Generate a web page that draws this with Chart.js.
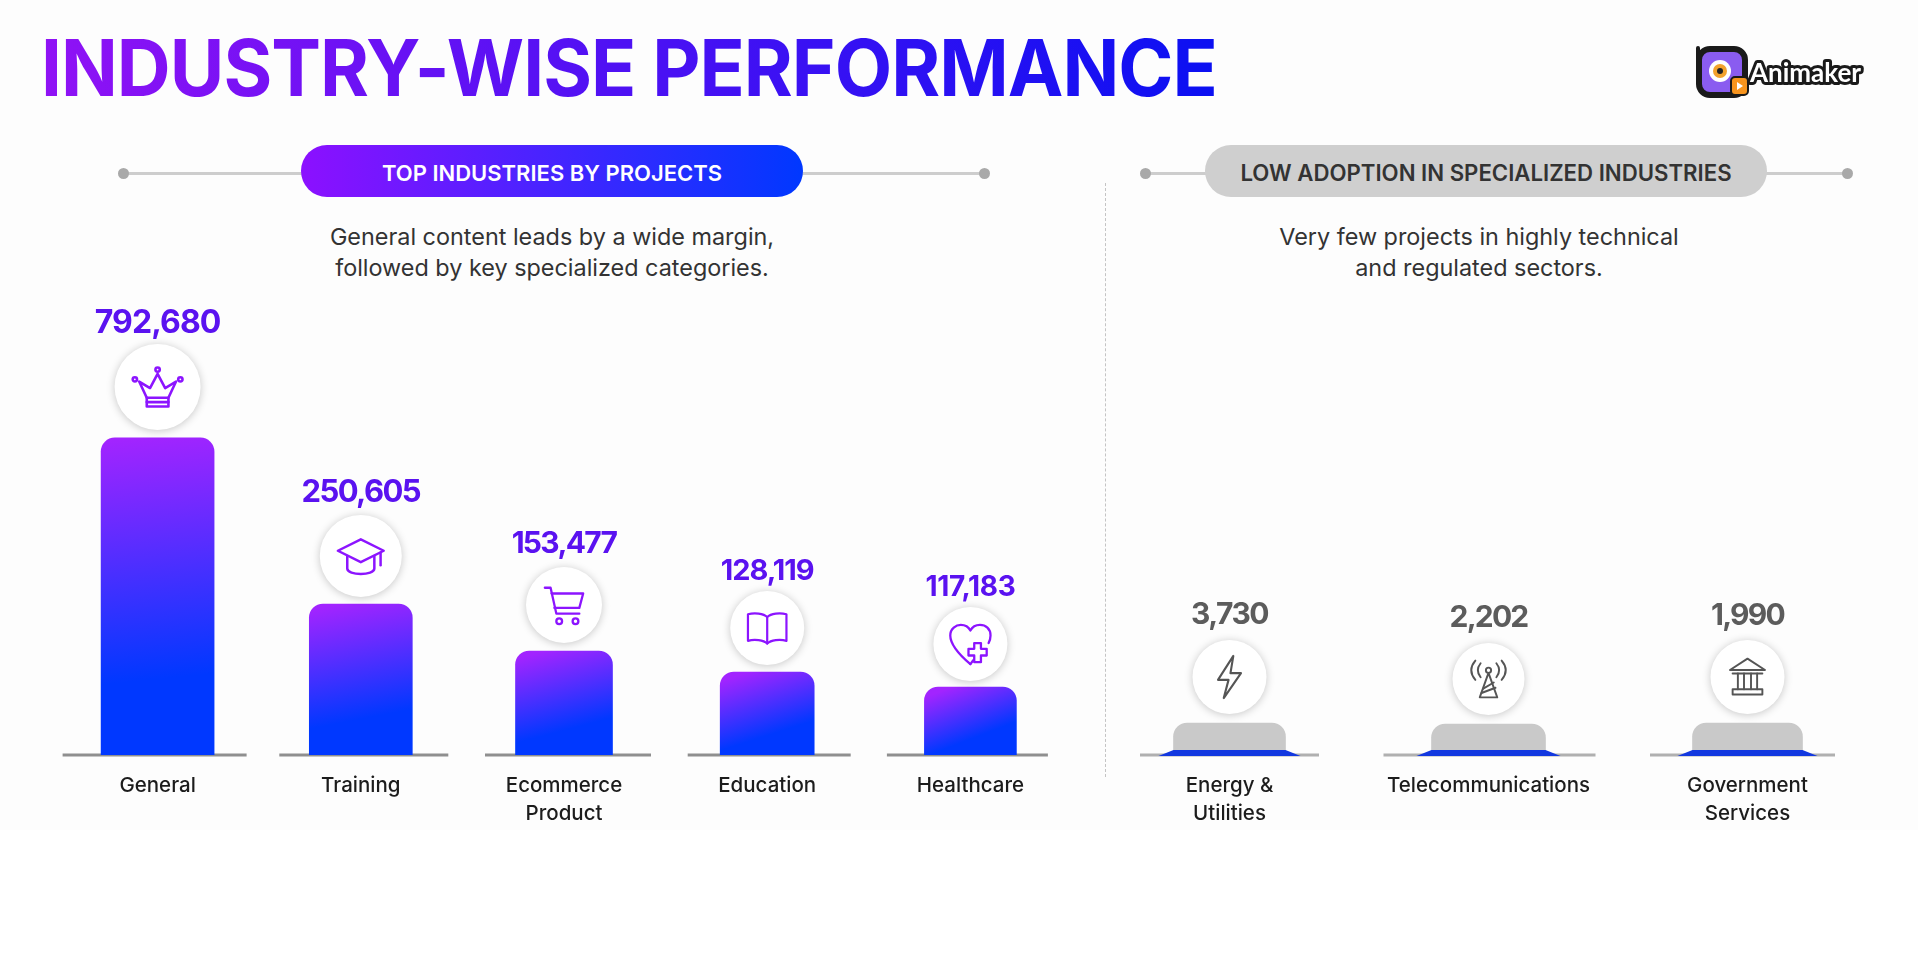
<!DOCTYPE html>
<html>
<head>
<meta charset="utf-8">
<title>Industry-wise performance</title>
<script src="https://cdn.jsdelivr.net/npm/chart.js@4/dist/chart.umd.min.js"></script>
<style>
    html, body { margin: 0; padding: 0; background: #fff; overflow: hidden; }
    #page { position: relative; width: 1918px; height: 960px; font-family: Inter, sans-serif; }
    #sheet { position: absolute; left: 0; top: 0; width: 1918px; height: 830px; background: #fdfdfd; }
    #title {
        position: absolute; left: 41px; top: 21px; white-space: nowrap;
        font-size: 78px; font-weight: 700; line-height: 94px; letter-spacing: -1px;
        transform: scaleX(0.956); transform-origin: left center;
        background: linear-gradient(90deg, #9012f5, #0b10f2);
        -webkit-background-clip: text; background-clip: text; color: transparent;
    }
    .rule { position: absolute; top: 172px; height: 3px; background: #cdcdcd; }
    .dot { position: absolute; top: 168px; width: 11px; height: 11px; border-radius: 50%; background: #a9a9a9; }
    .pill {
        position: absolute; top: 145px; height: 52px; border-radius: 26px; line-height: 56px;
        text-align: center; font-size: 22px; font-weight: 600;
    }
    #pillTop { left: 301px; width: 502px; color: #fff; background: linear-gradient(90deg, #8c10ff, #0038ff); }
    #pillLow { left: 1205px; width: 562px; color: #333; background: #cfcfcf; font-size: 22.2px; }
    .note {
        position: absolute; top: 221px; text-align: center; font-size: 23.4px; line-height: 31px;
        color: #333; white-space: nowrap;
    }
    #divider { position: absolute; left: 1105px; top: 183px; height: 594px; border-left: 1.5px dashed #c4c4c4; }
    canvas { position: absolute; top: 0; }
    #logo { position: absolute; left: 1690px; top: 40px; }
</style>
</head>
<body>
<div id="page">
    <div id="sheet"></div>
    <div id="title">INDUSTRY-WISE PERFORMANCE</div>

    <div class="rule" style="left:123px;width:180px"></div>
    <div class="rule" style="left:800px;width:185px"></div>
    <div class="dot" style="left:118px"></div>
    <div class="dot" style="left:979px"></div>
    <div class="pill" id="pillTop">TOP INDUSTRIES BY PROJECTS</div>
    <div class="note" style="left:252px;width:600px">General content leads by a wide margin,<br>followed by key specialized categories.</div>

    <div class="rule" style="left:1145px;width:62px"></div>
    <div class="rule" style="left:1765px;width:82px"></div>
    <div class="dot" style="left:1140px"></div>
    <div class="dot" style="left:1842px"></div>
    <div class="pill" id="pillLow">LOW ADOPTION IN SPECIALIZED INDUSTRIES</div>
    <div class="note" style="left:1179px;width:600px">Very few projects in highly technical<br>and regulated sectors.</div>

    <div id="divider"></div>

    <canvas id="topChart" width="1100" height="960" style="left:0"></canvas>
    <canvas id="lowChart" width="818" height="960" style="left:1100px"></canvas>

    <svg id="logo" width="180" height="62" viewBox="0 0 180 62">
        <path d="M8 8 V30" stroke="#1a1a1a" stroke-width="4" stroke-linecap="round"/>
        <rect x="9" y="9" width="46" height="46" rx="11" fill="#8a5cf0" stroke="#1a1a1a" stroke-width="6"/>
        <circle cx="30" cy="31" r="11" fill="#fff"/>
        <circle cx="30" cy="31" r="7" fill="#f2a22c"/>
        <circle cx="30" cy="31" r="3" fill="#222"/>
        <rect x="41" y="37" width="17" height="18" rx="4" fill="#f7941d" stroke="#1a1a1a" stroke-width="2"/>
        <path d="M47 42 L53 46 L47 50 Z" fill="#fff"/>
        <text x="60" y="42" font-family="Lato, sans-serif" font-size="26" font-weight="700" fill="#fff"
              stroke="#1a1a1a" stroke-width="6" paint-order="stroke" stroke-linejoin="round">Animaker</text>
    </svg>
</div>

<script>
// ---- data ----
const topCategories = ['General', 'Training', ['Ecommerce', 'Product'], 'Education', 'Healthcare'];
const topValues = [792680, 250605, 153477, 128119, 117183];
// the picture does not draw its bars to scale, these are the drawn bar
// levels, in units where the General bar sits at its printed value
const topLevels = [792680, 377600, 260000, 207500, 170000];

const lowCategories = [['Energy &', 'Utilities'], 'Telecommunications', ['Government', 'Services']];
const lowValues = [3730, 2202, 1990];
const lowLevels = [80000, 77500, 80000];
const lowBlueLevels = [12500, 12500, 12500];

const topIcons = ['crown', 'cap', 'cart', 'book', 'heart'];
const lowIcons = ['bolt', 'tower', 'bank'];

// ---- styling per bar ----
const topStyle = {
    barWidths: [113, 103, 97, 94, 92],
    axisWidths: [184, 169, 166, 163, 161],
    axisShift: [-3, 3, 4, 2, -3],
    badgeRadius: [43, 41, 38, 37, 37],
    badgeGap: [51, 48, 46, 44, 43],
    valueGap: [115, 111, 107, 101, 99],
    valueFont: [32, 31, 30, 29, 28],
    valueSpacing: ['-0.9px', '-1.6px', '-1.7px', '-1px', '-0.3px'],
    iconSize: [52, 50, 46, 44, 46],
    valueColor: '#5a12f0',
    axisColor: '#8f8f8f'
};
const lowStyle = {
    barWidths: [112, 114, 110],
    axisWidths: [179, 212, 185],
    axisShift: [0, 1, -5],
    badgeRadius: [37, 36, 37],
    badgeGap: [46, 45, 46],
    valueGap: [108, 106, 107],
    valueFont: [30, 30, 30],
    valueSpacing: ['-1.5px', '-1.8px', '-1.8px'],
    iconSize: [46, 42, 42],
    valueColor: '#5c5c5c',
    axisColor: '#b0b0b0'
};

const ICON_PATHS = {
    crown: ['M7 19 L14 34 H34 L41 19 L31 25 L24 12 L17 25 Z', 'M14 34 V42 H34 V34', 'M14 38 H34',
            'M26 8 A2 2 0 1 1 22 8 A2 2 0 1 1 26 8', 'M5 17 A2 2 0 1 1 1 17 A2 2 0 1 1 5 17', 'M47 17 A2 2 0 1 1 43 17 A2 2 0 1 1 47 17'],
    cap: ['M24 8 L46 19 L24 30 L2 19 Z', 'M11 24 V36 C11 43 37 43 37 36 V24', 'M43 21 V33'],
    cart: ['M4 6 H10 L16 33 H40', 'M11 12 H44 L40 27 H14', 'M22 41 A3 3 0 1 1 16 41 A3 3 0 1 1 22 41', 'M39 41 A3 3 0 1 1 33 41 A3 3 0 1 1 39 41'],
    book: ['M24 12 C20 8 10 7 3 9 V38 C10 36 20 37 24 41 C28 37 38 36 45 38 V9 C38 7 28 8 24 12 Z', 'M24 12 V41'],
    heart: ['M24 45 C10 33 3 24 3 15 C3 8 9 4 14 4 C18 4 22 6 24 10 C26 6 30 4 34 4 C40 4 45 8 45 15 C45 18 44 21 43 23',
            'M24 45 L27 41', 'M28 23 H35 V29 H41 V36 H35 V43 H28 V36 H22 V29 H28 Z'],
    bolt: ['M28 2 L12 27 H23 L18 46 L36 20 H25 Z'],
    tower: ['M24 17 L14 45 H34 Z', 'M18 35 L30 28', 'M16 40 L32 34', 'M27 14 A3 3 0 1 1 21 14 A3 3 0 1 1 27 14',
            'M15 6 C11 11 11 17 15 22', 'M33 6 C37 11 37 17 33 22', 'M9 3 C3 10 3 18 9 25', 'M39 3 C45 10 45 18 39 25'],
    bank: ['M24 3 L44 16 H4 Z', 'M7 20 H41', 'M13 20 V38', 'M20 20 V38', 'M28 20 V38', 'M35 20 V38', 'M7 38 H41 V44 H7 Z']
};

function barGradient(context, width, value) {
    const chart = context.chart;
    if (!chart.chartArea) return '#3030ff';
    const y = chart.scales.y;
    const x = chart.scales.x.getPixelForValue(context.dataset.slot);
    const top = y.getPixelForValue(value);
    const gradient = chart.ctx.createLinearGradient(x - width / 5, top, x + width / 12, y.getPixelForValue(0));
    gradient.addColorStop(0, '#a224ff');
    gradient.addColorStop(0.76, '#0038ff');
    gradient.addColorStop(1, '#0038ff');
    return gradient;
}

function drawIcon(ctx, name, cx, cy, size, color, thin) {
    const scale = size / 48;
    ctx.save();
    ctx.translate(cx - size / 2, cy - size / 2);
    ctx.scale(scale, scale);
    ctx.lineWidth = (thin ? 2.2 : 2.4) / scale * (size / 48);
    ctx.lineJoin = 'round';
    ctx.lineCap = 'round';
    ctx.strokeStyle = color;
    ICON_PATHS[name].forEach(d => {
        ctx.stroke(new Path2D(d));
    });
    ctx.restore();
}

// axis stubs under the bars, and the badge + value sitting on each bar
const decorations = {
    id: 'decorations',
    beforeDatasetsDraw(chart, args, opts) {
        const { ctx, scales } = chart;
        const base = scales.y.getPixelForValue(0);
        ctx.save();
        ctx.fillStyle = opts.style.axisColor;
        opts.style.axisWidths.forEach((w, i) => {
            const x = scales.x.getPixelForValue(i) + opts.style.axisShift[i];
            ctx.fillRect(x - w / 2, base - 1.5, w, 3);
        });
        ctx.restore();
    },
    afterDatasetsDraw(chart, args, opts) {
        const { ctx, scales } = chart;
        const style = opts.style;
        const base = scales.y.getPixelForValue(0);

        if (opts.blue) {
            // blue foot flares out along the axis
            opts.blue.forEach((level, i) => {
                const x = scales.x.getPixelForValue(i);
                const w = style.barWidths[i] / 2;
                const top = scales.y.getPixelForValue(level);
                ctx.beginPath();
                ctx.moveTo(x - w, top);
                ctx.lineTo(x + w, top);
                ctx.lineTo(x + w + 15, base + 1);
                ctx.lineTo(x - w - 15, base + 1);
                ctx.closePath();
                ctx.fillStyle = '#1238e0';
                ctx.fill();
            });
        }

        opts.values.forEach((value, i) => {
            const x = scales.x.getPixelForValue(i);
            const top = scales.y.getPixelForValue(opts.levels[i]);
            const r = style.badgeRadius[i];
            const cy = top - style.badgeGap[i];

            ctx.save();
            ctx.shadowColor = 'rgba(0,0,0,0.22)';
            ctx.shadowBlur = 9;
            ctx.shadowOffsetY = 1;
            ctx.fillStyle = '#fff';
            ctx.beginPath();
            ctx.arc(x, cy, r, 0, Math.PI * 2);
            ctx.fill();
            ctx.restore();

            const size = style.iconSize[i];
            let iconColor = '#555';
            if (opts.gradientIcons) {
                iconColor = ctx.createLinearGradient(x - size / 2, 0, x + size / 2, 0);
                iconColor.addColorStop(0, '#8c14ff');
                iconColor.addColorStop(1, '#1c24ff');
            }
            drawIcon(ctx, opts.icons[i], x, cy, size, iconColor, !opts.gradientIcons);

            ctx.save();
            ctx.font = `700 ${style.valueFont[i]}px Inter, sans-serif`;
            ctx.letterSpacing = style.valueSpacing[i];
            ctx.fillStyle = style.valueColor;
            ctx.textAlign = 'center';
            ctx.textBaseline = 'middle';
            ctx.fillText(value.toLocaleString('en-US'), x, top - style.valueGap[i]);
            ctx.restore();
        });
    }
};

function buildChart(canvasId, categories, values, levels, icons, style, padding, blue) {
    // one dataset per bar: each bar has its own width in the picture
    const datasets = categories.map((c, i) => ({
        data: levels.map((v, j) => (j === i ? v : null)),
        slot: i,
        barThickness: style.barWidths[i],
        borderRadius: { topLeft: 14, topRight: 14, bottomLeft: 0, bottomRight: 0 },
        borderSkipped: 'bottom',
        backgroundColor: blue ? '#c9c9c9' : (ctx => barGradient(ctx, style.barWidths[i], levels[i]))
    }));

    return new Chart(document.getElementById(canvasId), {
        type: 'bar',
        data: { labels: categories, datasets: datasets },
        plugins: [decorations],
        options: {
            responsive: false,
            animation: false,
            grouped: false,
            layout: { padding: padding },
            plugins: {
                legend: { display: false },
                tooltip: { enabled: false },
                decorations: { values: values, levels: levels, icons: icons, style: style, blue: blue, gradientIcons: !blue }
            },
            scales: {
                x: {
                    grid: { display: false },
                    border: { display: false },
                    afterFit(scale) { scale.height = 205; },
                    ticks: {
                        padding: 9,
                        autoSkip: false,
                        maxRotation: 0,
                        color: '#1c1c1c',
                        font: { family: 'Inter, sans-serif', size: 20.5, weight: 500, lineHeight: 1.37 }
                    }
                },
                y: { display: false, min: 0, max: 1500000 }
            }
        }
    });
}

buildChart('topChart', topCategories, topValues, topLevels, topIcons, topStyle,
    { left: 56, right: 28, top: 155, bottom: 0 }, null);
buildChart('lowChart', lowCategories, lowValues, lowLevels, lowIcons, lowStyle,
    { left: 0, right: 41, top: 155, bottom: 0 }, lowBlueLevels);
</script>
</body>
</html>
